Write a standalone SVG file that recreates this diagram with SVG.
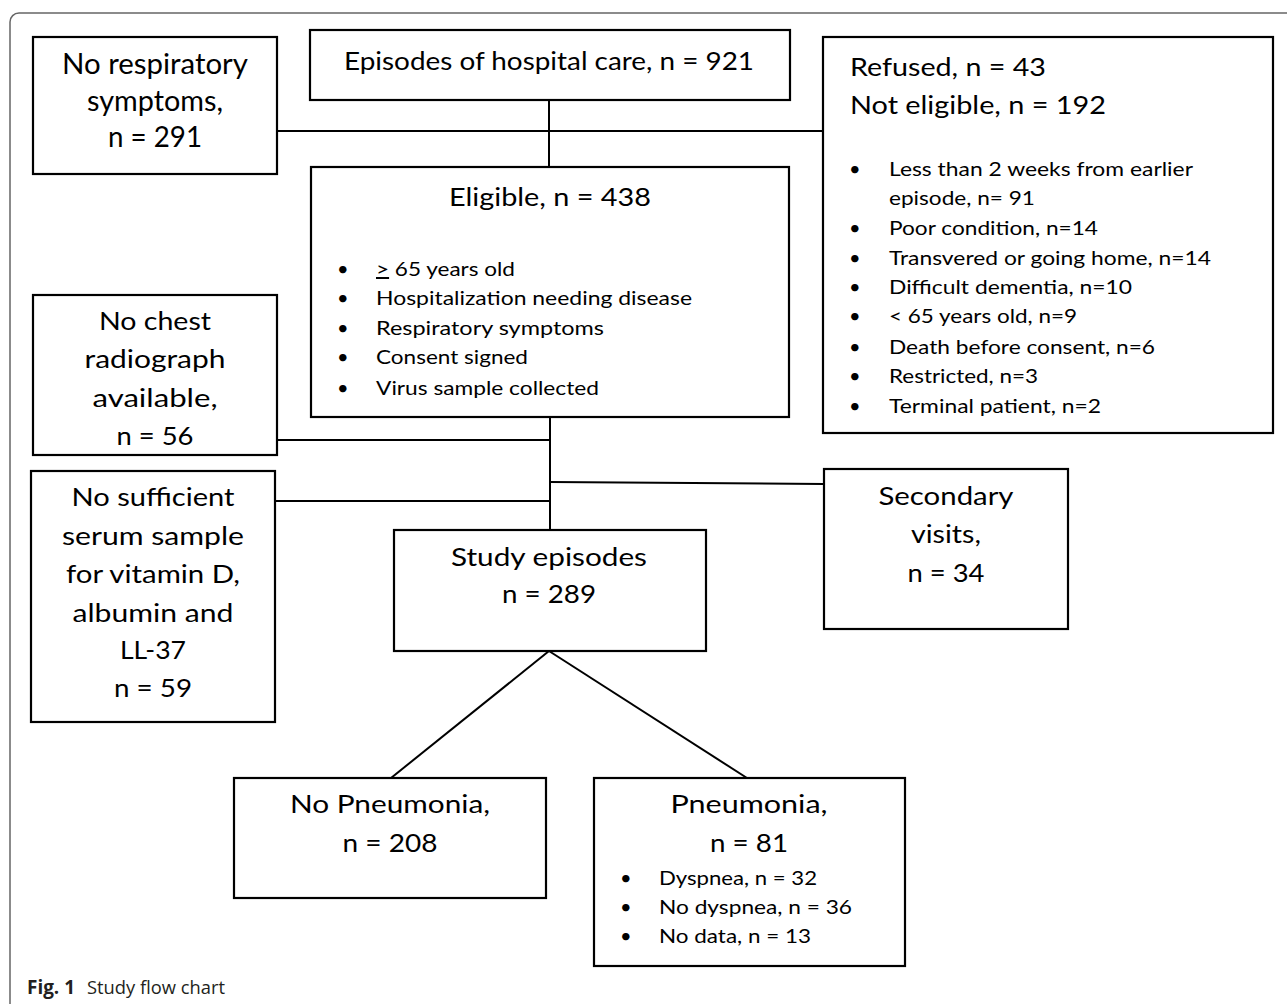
<svg xmlns="http://www.w3.org/2000/svg" width="1287" height="1004" viewBox="0 0 1287 1004">
<style>
.box{fill:#fff;stroke:#000;stroke-width:2.2}
.ln{stroke:#000;stroke-width:2;fill:none}
text{font-family:Lato,"Open Sans","Liberation Sans",sans-serif;fill:#000}
.t{font-size:25px}
.c{text-anchor:middle}
.b{font-size:20px}
.cap{font-family:"Open Sans","Noto Sans","Liberation Sans",sans-serif;fill:#231f20;font-size:19px}
</style>
<rect x="10" y="13" width="1320" height="1030" rx="9" fill="#fff" stroke="#666" stroke-width="1.5"/>
<g id="connectors">
<line class="ln" x1="549" y1="100" x2="549" y2="167"/>
<line class="ln" x1="277" y1="131" x2="824" y2="131"/>
<line class="ln" x1="550" y1="417" x2="550" y2="530"/>
<line class="ln" x1="277" y1="440" x2="550" y2="440"/>
<line class="ln" x1="550" y1="482" x2="824" y2="484"/>
<line class="ln" x1="275" y1="501" x2="550" y2="501"/>
<line class="ln" x1="549" y1="651" x2="391" y2="778"/>
<line class="ln" x1="549" y1="651" x2="747" y2="778"/>
</g>
<g id="no-respiratory">
<rect class="box" x="33" y="37" width="244" height="137"/>
<text class="c" style="font-size:29px" x="155" y="74" textLength="186" lengthAdjust="spacingAndGlyphs">No respiratory</text>
<text class="c" style="font-size:29px" x="155" y="111" textLength="136" lengthAdjust="spacingAndGlyphs">symptoms,</text>
<text class="c" style="font-size:29px" x="155" y="147" textLength="94" lengthAdjust="spacingAndGlyphs">n = 291</text>
</g>
<g id="episodes">
<rect class="box" x="310" y="30" width="480" height="70"/>
<text class="t c" x="549" y="70" textLength="410" lengthAdjust="spacingAndGlyphs">Episodes of hospital care, n = 921</text>
</g>
<g id="refused">
<rect class="box" x="823" y="37" width="450" height="396"/>
<text class="t" x="850" y="76" textLength="196" lengthAdjust="spacingAndGlyphs">Refused, n = 43</text>
<text class="t" x="850" y="114" textLength="256" lengthAdjust="spacingAndGlyphs">Not eligible, n = 192</text>
<g class="b">
<text x="849" y="176">•</text><text x="889" y="176" textLength="304" lengthAdjust="spacingAndGlyphs">Less than 2 weeks from earlier</text>
<text x="889" y="205" textLength="146" lengthAdjust="spacingAndGlyphs">episode, n= 91</text>
<text x="849" y="235">•</text><text x="889" y="235" textLength="209" lengthAdjust="spacingAndGlyphs">Poor condition, n=14</text>
<text x="849" y="265">•</text><text x="889" y="265" textLength="322" lengthAdjust="spacingAndGlyphs">Transvered or going home, n=14</text>
<text x="849" y="294">•</text><text x="889" y="294" textLength="243" lengthAdjust="spacingAndGlyphs">Difficult dementia, n=10</text>
<text x="849" y="323">•</text><text x="889" y="323" textLength="188" lengthAdjust="spacingAndGlyphs">&lt; 65 years old, n=9</text>
<text x="849" y="354">•</text><text x="889" y="354" textLength="266" lengthAdjust="spacingAndGlyphs">Death before consent, n=6</text>
<text x="849" y="383">•</text><text x="889" y="383" textLength="149" lengthAdjust="spacingAndGlyphs">Restricted, n=3</text>
<text x="849" y="413">•</text><text x="889" y="413" textLength="212" lengthAdjust="spacingAndGlyphs">Terminal patient, n=2</text>
</g>
</g>
<g id="eligible">
<rect class="box" x="311" y="167" width="478" height="250"/>
<text class="t c" x="550" y="206" textLength="202" lengthAdjust="spacingAndGlyphs">Eligible, n = 438</text>
<g class="b">
<text x="337" y="276">•</text><text x="376" y="276" textLength="139" lengthAdjust="spacingAndGlyphs"><tspan text-decoration="underline">&gt;</tspan> 65 years old</text>
<text x="337" y="305">•</text><text x="376" y="305" textLength="316" lengthAdjust="spacingAndGlyphs">Hospitalization needing disease</text>
<text x="337" y="335">•</text><text x="376" y="335" textLength="228" lengthAdjust="spacingAndGlyphs">Respiratory symptoms</text>
<text x="337" y="364">•</text><text x="376" y="364" textLength="152" lengthAdjust="spacingAndGlyphs">Consent signed</text>
<text x="337" y="395">•</text><text x="376" y="395" textLength="223" lengthAdjust="spacingAndGlyphs">Virus sample collected</text>
</g>
</g>
<g id="no-chest">
<rect class="box" x="33" y="295" width="244" height="160"/>
<text class="t c" x="155" y="330" textLength="112" lengthAdjust="spacingAndGlyphs">No chest</text>
<text class="t c" x="155" y="368" textLength="141" lengthAdjust="spacingAndGlyphs">radiograph</text>
<text class="t c" x="155" y="407" textLength="125" lengthAdjust="spacingAndGlyphs">available,</text>
<text class="t c" x="155" y="445" textLength="77" lengthAdjust="spacingAndGlyphs">n = 56</text>
</g>
<g id="no-sufficient">
<rect class="box" x="31" y="471" width="244" height="251"/>
<text class="t c" x="153" y="506" textLength="163" lengthAdjust="spacingAndGlyphs">No sufficient</text>
<text class="t c" x="153" y="545" textLength="182" lengthAdjust="spacingAndGlyphs">serum sample</text>
<text class="t c" x="153" y="583" textLength="174" lengthAdjust="spacingAndGlyphs">for vitamin D,</text>
<text class="t c" x="153" y="622" textLength="161" lengthAdjust="spacingAndGlyphs">albumin and</text>
<text class="t c" x="153" y="659" textLength="66" lengthAdjust="spacingAndGlyphs">LL-37</text>
<text class="t c" x="153" y="697" textLength="78" lengthAdjust="spacingAndGlyphs">n = 59</text>
</g>
<g id="study-episodes">
<rect class="box" x="394" y="530" width="312" height="121"/>
<text class="t c" x="549" y="566" textLength="196" lengthAdjust="spacingAndGlyphs">Study episodes</text>
<text class="t c" x="549" y="603" textLength="94" lengthAdjust="spacingAndGlyphs">n = 289</text>
</g>
<g id="secondary">
<rect class="box" x="824" y="469" width="244" height="160"/>
<text class="t c" x="946" y="505" textLength="135" lengthAdjust="spacingAndGlyphs">Secondary</text>
<text class="t c" x="946" y="543" textLength="70" lengthAdjust="spacingAndGlyphs">visits,</text>
<text class="t c" x="946" y="582" textLength="77" lengthAdjust="spacingAndGlyphs">n = 34</text>
</g>
<g id="no-pneumonia">
<rect class="box" x="234" y="778" width="312" height="120"/>
<text class="t c" x="390" y="813" textLength="200" lengthAdjust="spacingAndGlyphs">No Pneumonia,</text>
<text class="t c" x="390" y="852" textLength="95" lengthAdjust="spacingAndGlyphs">n = 208</text>
</g>
<g id="pneumonia">
<rect class="box" x="594" y="778" width="311" height="188"/>
<text class="t c" x="749" y="813" textLength="157" lengthAdjust="spacingAndGlyphs">Pneumonia,</text>
<text class="t c" x="749" y="852" textLength="78" lengthAdjust="spacingAndGlyphs">n = 81</text>
<g class="b">
<text x="620" y="885">•</text><text x="659" y="885" textLength="158" lengthAdjust="spacingAndGlyphs">Dyspnea, n = 32</text>
<text x="620" y="914">•</text><text x="659" y="914" textLength="193" lengthAdjust="spacingAndGlyphs">No dyspnea, n = 36</text>
<text x="620" y="943">•</text><text x="659" y="943" textLength="152" lengthAdjust="spacingAndGlyphs">No data, n = 13</text>
</g>
</g>
<g id="caption">
<text class="cap" x="27" y="994" font-weight="bold" textLength="48" lengthAdjust="spacingAndGlyphs">Fig. 1</text>
<text class="cap" x="87" y="994" textLength="138" lengthAdjust="spacingAndGlyphs">Study flow chart</text>
</g>
</svg>
